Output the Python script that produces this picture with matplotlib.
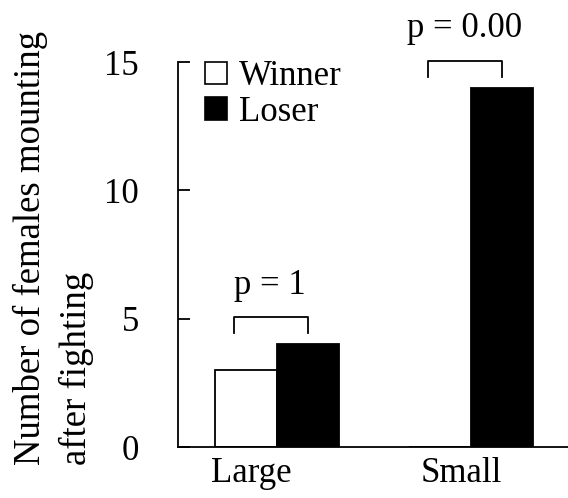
import numpy as np
import matplotlib.pyplot as plt
from matplotlib.patches import Patch

plt.rcParams['font.family'] = ['Liberation Serif', 'DejaVu Serif']

# data
sizes = ['Large', 'Small']
winner = [3, 0]
loser = [4, 14]
p_labels = ['p = 1', 'p = 0.00']
bracket_top = [5.05, 15.05]

x = np.arange(len(sizes))
w = 0.32

fig = plt.figure(figsize=(5.68, 4.98), dpi=100)
ax = fig.add_axes([0.3134, 0.1024, 0.6866, 0.7731])

ax.bar(x - w / 2, winner, w, color='white', edgecolor='black', linewidth=1.3)
ax.bar(x + w / 2, loser, w, color='black', edgecolor='black', linewidth=1.3)

# significance brackets
for xi, top, lab in zip(x, bracket_top, p_labels):
    ax.plot([xi - 0.22, xi - 0.22, xi + 0.16, xi + 0.16],
            [top - 0.62, top, top, top - 0.62], color='black', lw=1.3,
            clip_on=False)
    ax.text(xi - 0.035, top + 0.92, lab, ha='center', va='baseline',
            fontsize=25, clip_on=False)

ax.set_xlim(-0.51, 1.5)
ax.set_ylim(0, 15)
ax.set_yticks([0, 5, 10, 15])
ax.set_xticks(x + np.array([-0.13, -0.05]))
ax.set_xticklabels(sizes)
ax.tick_params(axis='y', direction='in', length=8.5, width=1.3, pad=28,
               labelsize=25)
ax.tick_params(axis='x', length=0, pad=7, labelsize=25)
for s in ['top', 'right']:
    ax.spines[s].set_visible(False)
for s in ['left', 'bottom']:
    ax.spines[s].set_linewidth(1.3)

handles = [Patch(facecolor='white', edgecolor='black', lw=1.2),
           Patch(facecolor='black', edgecolor='black', lw=1.2)]
ax.legend(handles, ['Winner', 'Loser'], loc='upper left',
          bbox_to_anchor=(0.07, 1.005), frameon=False, fontsize=25,
          handlelength=0.62, handleheight=0.62, handletextpad=0.35,
          labelspacing=0.08, borderpad=0, borderaxespad=0)

fig.text(0.022, 0.066, 'Number of females mounting\nafter fighting',
         rotation=90, ha='left', va='bottom', multialignment='left',
         fontsize=26.5, linespacing=1.4)

fig.savefig('out.png', dpi=100)
